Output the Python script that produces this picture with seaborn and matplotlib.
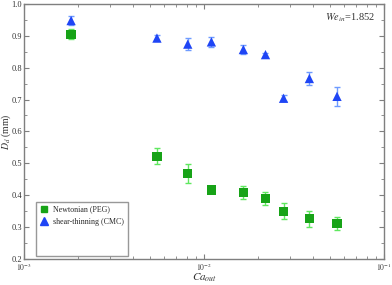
import matplotlib
matplotlib.use("Agg")
import matplotlib.pyplot as plt
from matplotlib.lines import Line2D
from matplotlib.ticker import FixedLocator, MultipleLocator, LogLocator, NullFormatter, FormatStrFormatter, FixedFormatter
import numpy as np
import pandas as pd
import seaborn as sns

# Data
ca_peg = [0.00182, 0.00546, 0.0081, 0.01096, 0.0165, 0.0219, 0.0276, 0.0384, 0.0547]
dd_peg = [0.905, 0.522, 0.467, 0.416, 0.408, 0.389, 0.349, 0.326, 0.311]
err_peg = [0.015, 0.025, 0.03, 0.01, 0.02, 0.02, 0.025, 0.025, 0.02]

ca_cmc = [0.00182, 0.00546, 0.0081, 0.01096, 0.0165, 0.0219, 0.0276, 0.0384, 0.0547]
dd_cmc = [0.948, 0.893, 0.874, 0.881, 0.857, 0.841, 0.704, 0.766, 0.710]
err_cmc = [0.015, 0.01, 0.02, 0.015, 0.015, 0.006, 0.01, 0.02, 0.03]

labels = ["Newtonian (PEG)", "shear-thinning (CMC)"]
xtick_vals = [1e-3, 1e-2, 1e-1]
xtick_labels = [r"$10^{-3}$", r"$10^{-2}$", r"$10^{-1}$"]

df = pd.DataFrame({
    "Ca": ca_peg + ca_cmc,
    "Dd": dd_peg + dd_cmc,
    "fluid": [labels[0]] * len(ca_peg) + [labels[1]] * len(ca_cmc),
})

sns.set_style("ticks")
plt.rcParams["font.family"] = ["Liberation Serif", "DejaVu Serif"]
plt.rcParams["mathtext.fontset"] = "stix"

green, green_light = "#17a317", "#5fe85f"
blue, blue_light = "#1f45f5", "#6e9bff"

fig = plt.figure(figsize=(3.92, 2.85), dpi=100)
ax = fig.add_axes([0.062, 0.092, 0.918, 0.894])

# error bars first, markers on top
ax.errorbar(ca_peg, dd_peg, yerr=err_peg, fmt="none", ecolor=green_light,
            elinewidth=1.0, capsize=2.5, capthick=1.0, zorder=2)
ax.errorbar(ca_cmc, dd_cmc, yerr=err_cmc, fmt="none", ecolor=blue_light,
            elinewidth=1.0, capsize=2.5, capthick=1.0, zorder=2)

sns.scatterplot(data=df, x="Ca", y="Dd", hue="fluid", style="fluid",
                palette={labels[0]: green, labels[1]: blue},
                markers={labels[0]: "s", labels[1]: "^"},
                s=45, edgecolor="none", legend=False, ax=ax, zorder=3)

ax.set_xscale("log")
ax.set_xlim(1e-3, 1e-1)
ax.set_ylim(0.2, 1.0)
ax.yaxis.set_major_locator(MultipleLocator(0.1))
ax.yaxis.set_minor_locator(MultipleLocator(0.05))
ax.yaxis.set_major_formatter(FormatStrFormatter("%.1f"))
ax.xaxis.set_major_locator(FixedLocator(xtick_vals))
ax.xaxis.set_major_formatter(FixedFormatter(xtick_labels))
ax.xaxis.set_minor_locator(LogLocator(base=10, subs=np.arange(2, 10)))
ax.xaxis.set_minor_formatter(NullFormatter())

for sp in ax.spines.values():
    sp.set_visible(True)
    sp.set_color("#7f7f7f")
    sp.set_linewidth(1.0)
ax.tick_params(which="both", direction="in", top=True, right=True,
               colors="#7f7f7f", labelcolor="#333333", labelsize=6, pad=1.5)
ax.tick_params(axis="x", labelsize=5.5, pad=2)
ax.tick_params(which="major", length=3.5, width=0.8)
ax.tick_params(which="minor", length=2, width=0.6)

ax.set_xlabel(r"$Ca_{out}$", fontsize=8, color="#333333", va="top")
ax.xaxis.set_label_coords(0.5, -0.05)
ax.set_ylabel(r"$D_d$ (mm)", fontsize=7, color="#333333", va="center")
ax.yaxis.set_label_coords(-0.05, 0.5)

ax.text(0.975, 0.945, r"$We_{in}$=1.852", transform=ax.transAxes,
        ha="right", va="center", fontsize=7.5, color="#333333")

handles = [
    Line2D([], [], marker="s", color=green, linestyle="none", markersize=5),
    Line2D([], [], marker="^", color=blue, linestyle="none", markersize=6),
    Line2D([], [], linestyle="none"),
    Line2D([], [], linestyle="none"),
]
leg = ax.legend(handles, labels + [" ", " "], loc="lower left",
                bbox_to_anchor=(0.033, 0.012), fontsize=5.7,
                frameon=True, fancybox=False, handlelength=1.0,
                handletextpad=0.6, borderpad=0.5, labelspacing=0.6,
                borderaxespad=0)
leg.get_frame().set_edgecolor("#7f7f7f")
leg.get_frame().set_linewidth(1.0)

fig.savefig("out.png", dpi=100)
